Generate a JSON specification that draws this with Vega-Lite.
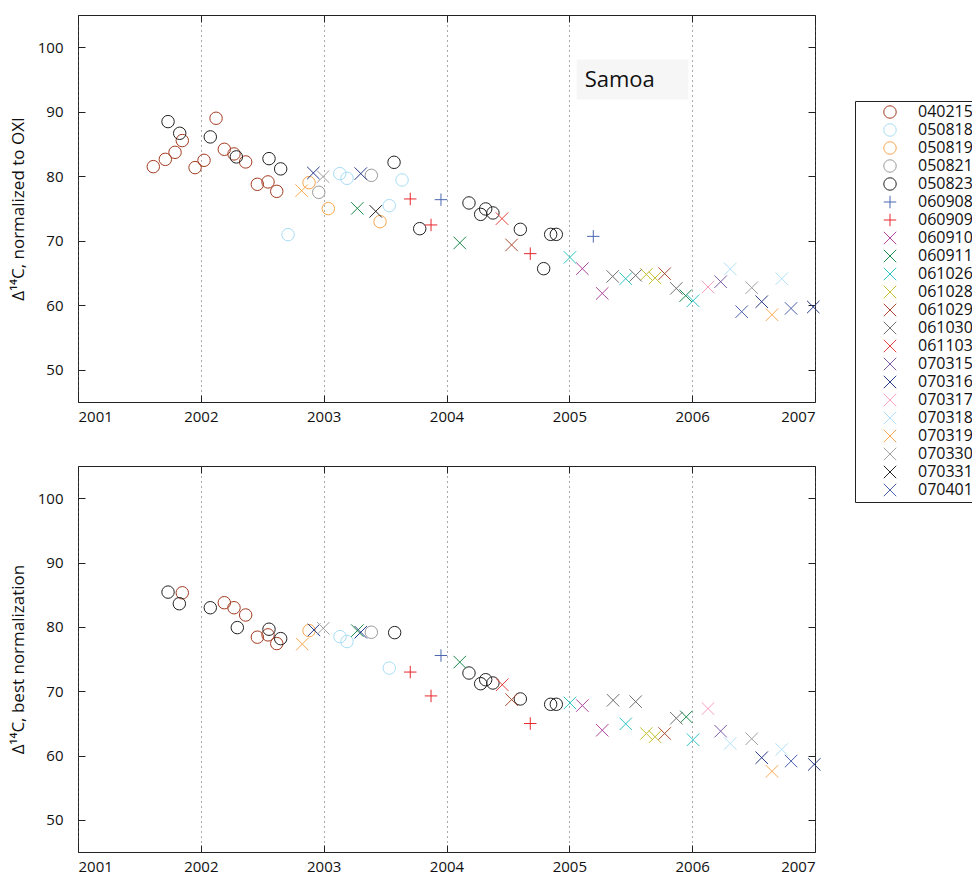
{
  "$schema": "https://vega.github.io/schema/vega-lite/v6.json",
  "padding": {"left": 8, "top": 14, "right": 0, "bottom": 0},
  "autosize": {"type": "pad"},
  "spacing": 40,
  "config": {
    "font": "Open Sans",
    "view": {"stroke": "#222", "strokeWidth": 1},
    "axis": {
      "labelFont": "Open Sans", "labelFontSize": 15, "labelColor": "#111",
      "titleFont": "Open Sans", "titleFontSize": 17, "titleFontWeight": "normal", "titleColor": "#111",
      "domain": false, "tickColor": "#222", "tickSize": -7, "grid": false
    },
    "axisX": {"labelPadding": 14},
    "axisY": {"labelPadding": 22, "titlePadding": 10}
  },
  "datasets": {
    "top": [
      {"s": "040215", "t": 2001.613, "v": 81.49},
      {"s": "040215", "t": 2001.711, "v": 82.62},
      {"s": "040215", "t": 2001.790, "v": 83.71},
      {"s": "040215", "t": 2001.849, "v": 85.53},
      {"s": "040215", "t": 2001.953, "v": 81.34},
      {"s": "040215", "t": 2002.026, "v": 82.47},
      {"s": "040215", "t": 2002.124, "v": 88.99},
      {"s": "040215", "t": 2002.191, "v": 84.18},
      {"s": "040215", "t": 2002.270, "v": 83.46},
      {"s": "040215", "t": 2002.365, "v": 82.22},
      {"s": "040215", "t": 2002.460, "v": 78.75},
      {"s": "040215", "t": 2002.547, "v": 79.12},
      {"s": "040215", "t": 2002.618, "v": 77.66},
      {"s": "050818", "t": 2002.710, "v": 70.94},
      {"s": "050818", "t": 2003.131, "v": 80.41},
      {"s": "050818", "t": 2003.190, "v": 79.68},
      {"s": "050818", "t": 2003.534, "v": 75.44},
      {"s": "050818", "t": 2003.638, "v": 79.43},
      {"s": "050819", "t": 2002.881, "v": 79.01},
      {"s": "050819", "t": 2003.038, "v": 74.98},
      {"s": "050819", "t": 2003.459, "v": 72.96},
      {"s": "050821", "t": 2002.960, "v": 77.51},
      {"s": "050821", "t": 2003.388, "v": 80.14},
      {"s": "050823", "t": 2001.733, "v": 88.47},
      {"s": "050823", "t": 2001.828, "v": 86.66},
      {"s": "050823", "t": 2002.077, "v": 86.10},
      {"s": "050823", "t": 2002.289, "v": 83.00},
      {"s": "050823", "t": 2002.555, "v": 82.73},
      {"s": "050823", "t": 2002.650, "v": 81.14},
      {"s": "050823", "t": 2003.573, "v": 82.16},
      {"s": "050823", "t": 2003.782, "v": 71.87},
      {"s": "050823", "t": 2004.183, "v": 75.86},
      {"s": "050823", "t": 2004.278, "v": 74.09},
      {"s": "050823", "t": 2004.319, "v": 74.93},
      {"s": "050823", "t": 2004.378, "v": 74.31},
      {"s": "050823", "t": 2004.601, "v": 71.77},
      {"s": "050823", "t": 2004.791, "v": 65.67},
      {"s": "050823", "t": 2004.848, "v": 70.99},
      {"s": "050823", "t": 2004.894, "v": 70.99},
      {"s": "060908", "t": 2003.955, "v": 76.37},
      {"s": "060908", "t": 2005.195, "v": 70.68},
      {"s": "060909", "t": 2003.705, "v": 76.48},
      {"s": "060909", "t": 2003.874, "v": 72.45},
      {"s": "060909", "t": 2004.682, "v": 68.00},
      {"s": "060910", "t": 2005.106, "v": 65.67},
      {"s": "060910", "t": 2005.268, "v": 61.84},
      {"s": "060911", "t": 2003.274, "v": 75.02},
      {"s": "060911", "t": 2004.108, "v": 69.66},
      {"s": "060911", "t": 2005.947, "v": 61.48},
      {"s": "061026", "t": 2005.005, "v": 67.42},
      {"s": "061026", "t": 2005.459, "v": 64.12},
      {"s": "061026", "t": 2006.007, "v": 60.70},
      {"s": "061028", "t": 2005.627, "v": 64.78},
      {"s": "061028", "t": 2005.698, "v": 64.23},
      {"s": "061029", "t": 2004.530, "v": 69.35},
      {"s": "061029", "t": 2005.776, "v": 64.90},
      {"s": "061030", "t": 2005.353, "v": 64.47},
      {"s": "061030", "t": 2005.540, "v": 64.63},
      {"s": "061030", "t": 2005.871, "v": 62.61},
      {"s": "061103", "t": 2004.452, "v": 73.43},
      {"s": "070315", "t": 2006.232, "v": 63.65},
      {"s": "070316", "t": 2002.916, "v": 80.51},
      {"s": "070316", "t": 2003.302, "v": 80.41},
      {"s": "070316", "t": 2006.566, "v": 60.55},
      {"s": "070316", "t": 2006.986, "v": 59.73},
      {"s": "070317", "t": 2006.129, "v": 62.83},
      {"s": "070318", "t": 2006.310, "v": 65.62},
      {"s": "070318", "t": 2006.729, "v": 64.12},
      {"s": "070319", "t": 2002.821, "v": 77.77},
      {"s": "070319", "t": 2006.650, "v": 58.53},
      {"s": "070330", "t": 2002.995, "v": 79.94},
      {"s": "070330", "t": 2006.485, "v": 62.72},
      {"s": "070331", "t": 2003.424, "v": 74.56},
      {"s": "070401", "t": 2006.403, "v": 59.00},
      {"s": "070401", "t": 2006.805, "v": 59.51}
    ],
    "bottom": [
      {"s": "040215", "t": 2001.849, "v": 85.29},
      {"s": "040215", "t": 2002.191, "v": 83.75},
      {"s": "040215", "t": 2002.270, "v": 82.97},
      {"s": "040215", "t": 2002.365, "v": 81.84},
      {"s": "040215", "t": 2002.460, "v": 78.39},
      {"s": "040215", "t": 2002.547, "v": 78.75},
      {"s": "040215", "t": 2002.618, "v": 77.40},
      {"s": "050818", "t": 2003.133, "v": 78.48},
      {"s": "050818", "t": 2003.190, "v": 77.71},
      {"s": "050818", "t": 2003.534, "v": 73.59},
      {"s": "050819", "t": 2002.881, "v": 79.41},
      {"s": "050821", "t": 2003.388, "v": 79.16},
      {"s": "050823", "t": 2001.733, "v": 85.40},
      {"s": "050823", "t": 2001.825, "v": 83.59},
      {"s": "050823", "t": 2002.077, "v": 82.97},
      {"s": "050823", "t": 2002.297, "v": 79.88},
      {"s": "050823", "t": 2002.555, "v": 79.63},
      {"s": "050823", "t": 2002.650, "v": 78.17},
      {"s": "050823", "t": 2003.578, "v": 79.10},
      {"s": "050823", "t": 2004.183, "v": 72.82},
      {"s": "050823", "t": 2004.278, "v": 71.16},
      {"s": "050823", "t": 2004.319, "v": 71.78},
      {"s": "050823", "t": 2004.378, "v": 71.27},
      {"s": "050823", "t": 2004.601, "v": 68.79},
      {"s": "050823", "t": 2004.848, "v": 67.96},
      {"s": "050823", "t": 2004.894, "v": 67.96},
      {"s": "060908", "t": 2003.955, "v": 75.54},
      {"s": "060909", "t": 2003.705, "v": 72.97},
      {"s": "060909", "t": 2003.874, "v": 69.26},
      {"s": "060909", "t": 2004.682, "v": 64.97},
      {"s": "060910", "t": 2005.106, "v": 67.76},
      {"s": "060910", "t": 2005.268, "v": 63.93},
      {"s": "060911", "t": 2003.274, "v": 79.41},
      {"s": "060911", "t": 2004.108, "v": 74.52},
      {"s": "060911", "t": 2005.952, "v": 66.00},
      {"s": "061026", "t": 2005.005, "v": 68.17},
      {"s": "061026", "t": 2005.459, "v": 64.92},
      {"s": "061026", "t": 2006.007, "v": 62.45},
      {"s": "061028", "t": 2005.627, "v": 63.42},
      {"s": "061028", "t": 2005.698, "v": 62.91},
      {"s": "061029", "t": 2004.530, "v": 68.68},
      {"s": "061029", "t": 2005.776, "v": 63.42},
      {"s": "061030", "t": 2005.356, "v": 68.58},
      {"s": "061030", "t": 2005.540, "v": 68.37},
      {"s": "061030", "t": 2005.871, "v": 65.79},
      {"s": "061103", "t": 2004.454, "v": 71.00},
      {"s": "070315", "t": 2006.232, "v": 63.78},
      {"s": "070316", "t": 2002.921, "v": 79.52},
      {"s": "070316", "t": 2003.302, "v": 79.16},
      {"s": "070316", "t": 2006.566, "v": 59.66},
      {"s": "070316", "t": 2006.994, "v": 58.62},
      {"s": "070317", "t": 2006.129, "v": 67.29},
      {"s": "070318", "t": 2006.310, "v": 61.87},
      {"s": "070318", "t": 2006.729, "v": 60.94},
      {"s": "070319", "t": 2002.826, "v": 77.31},
      {"s": "070319", "t": 2006.650, "v": 57.54},
      {"s": "070330", "t": 2002.997, "v": 79.78},
      {"s": "070330", "t": 2006.485, "v": 62.60},
      {"s": "070401", "t": 2006.805, "v": 59.13}
    ]
  },
  "vconcat": [
    {
      "width": 737,
      "height": 387,
      "data": {"name": "top"},
      "resolve": {"axis": {"x": "independent", "y": "independent"}},
      "layer": [
        {
          "data": {"values": [{}]},
          "mark": {"type": "rect", "color": "#f6f6f6"},
          "encoding": {
            "x": {"datum": 2005.06, "type": "quantitative", "axis": null},
            "x2": {"datum": 2005.97},
            "y": {"datum": 91.9, "type": "quantitative", "axis": null},
            "y2": {"datum": 98.1}
          }
        },
        {
          "data": {"values": [{}]},
          "mark": {"type": "text", "text": "Samoa", "fontSize": 22, "align": "left", "baseline": "middle", "color": "#111", "font": "Open Sans"},
          "encoding": {
            "x": {"datum": 2005.125, "type": "quantitative", "axis": null},
            "y": {"datum": 95.0, "type": "quantitative", "axis": null}
          }
        },
        {
          "mark": {"type": "point", "filled": false, "strokeWidth": 1, "size": 155, "opacity": 1},
          "encoding": {
            "x": {"field": "t", "type": "quantitative", "scale": {"domain": [2001, 2007], "nice": false, "zero": false},
                  "axis": {"orient": "bottom", "values": [2001, 2002, 2003, 2004, 2005, 2006, 2007], "format": "d", "title": null, "grid": true, "gridDash": [1, 4], "gridColor": "#555", "gridWidth": 1}},
            "y": {"field": "v", "type": "quantitative", "scale": {"domain": [45, 105], "nice": false, "zero": false},
                  "axis": {"orient": "left", "values": [50, 60, 70, 80, 90, 100], "title": "Δ¹⁴C, normalized to OXI"}},
            "color": {"field": "s", "type": "nominal",
              "scale": {"domain": ["040215","050818","050819","050821","050823","060908","060909","060910","060911","061026","061028","061029","061030","061103","070315","070316","070317","070318","070319","070330","070331","070401"],
                        "range": ["#a33b20","#a8ddf5","#f9a64f","#9a9a9a","#222222","#4a66b0","#e8262a","#b0449c","#1a8a4a","#2ec4c4","#c4c030","#a84a30","#707070","#e8403a","#7a5aa8","#283a88","#f7a0c0","#b0e0f8","#f9a850","#a0a0a0","#222222","#4a60b0"]},
              "legend": {"orient": "none", "legendX": 777, "legendY": 86, "title": null, "strokeColor": "#222", "fillColor": "white", "padding": 3,
                         "labelFont": "Open Sans", "labelFontSize": 16, "labelColor": "#111", "symbolSize": 155, "symbolStrokeWidth": 1,
                         "rowPadding": 0, "symbolOffset": 24, "labelOffset": 20, "labelLimit": 300}},
            "shape": {"field": "s", "type": "nominal",
              "scale": {"domain": ["040215","050818","050819","050821","050823","060908","060909","060910","060911","061026","061028","061029","061030","061103","070315","070316","070317","070318","070319","070330","070331","070401"],
                        "range": ["circle","circle","circle","circle","circle","M-1,0L1,0M0,-1L0,1","M-1,0L1,0M0,-1L0,1","M-1,-1L1,1M-1,1L1,-1","M-1,-1L1,1M-1,1L1,-1","M-1,-1L1,1M-1,1L1,-1","M-1,-1L1,1M-1,1L1,-1","M-1,-1L1,1M-1,1L1,-1","M-1,-1L1,1M-1,1L1,-1","M-1,-1L1,1M-1,1L1,-1","M-1,-1L1,1M-1,1L1,-1","M-1,-1L1,1M-1,1L1,-1","M-1,-1L1,1M-1,1L1,-1","M-1,-1L1,1M-1,1L1,-1","M-1,-1L1,1M-1,1L1,-1","M-1,-1L1,1M-1,1L1,-1","M-1,-1L1,1M-1,1L1,-1","M-1,-1L1,1M-1,1L1,-1"]}}
          }
        },
        {
          "data": {"values": [{}]},
          "mark": {"type": "point", "opacity": 0},
          "encoding": {
            "x": {"datum": 2001, "type": "quantitative", "axis": {"orient": "top", "labels": false, "title": null, "values": [2001, 2002, 2003, 2004, 2005, 2006, 2007]}},
            "y": {"datum": 50, "type": "quantitative", "axis": {"orient": "right", "labels": false, "title": null, "values": [50, 60, 70, 80, 90, 100]}}
          }
        }
      ]
    },
    {
      "width": 737,
      "height": 386,
      "data": {"name": "bottom"},
      "resolve": {"axis": {"x": "independent", "y": "independent"}},
      "layer": [
        {
          "mark": {"type": "point", "filled": false, "strokeWidth": 1, "size": 155, "opacity": 1},
          "encoding": {
            "x": {"field": "t", "type": "quantitative", "scale": {"domain": [2001, 2007], "nice": false, "zero": false},
                  "axis": {"orient": "bottom", "values": [2001, 2002, 2003, 2004, 2005, 2006, 2007], "format": "d", "title": null, "grid": true, "gridDash": [1, 4], "gridColor": "#555", "gridWidth": 1}},
            "y": {"field": "v", "type": "quantitative", "scale": {"domain": [45, 105], "nice": false, "zero": false},
                  "axis": {"orient": "left", "values": [50, 60, 70, 80, 90, 100], "title": "Δ¹⁴C, best normalization"}},
            "color": {"field": "s", "type": "nominal",
              "scale": {"domain": ["040215","050818","050819","050821","050823","060908","060909","060910","060911","061026","061028","061029","061030","061103","070315","070316","070317","070318","070319","070330","070331","070401"],
                        "range": ["#a33b20","#a8ddf5","#f9a64f","#9a9a9a","#222222","#4a66b0","#e8262a","#b0449c","#1a8a4a","#2ec4c4","#c4c030","#a84a30","#707070","#e8403a","#7a5aa8","#283a88","#f7a0c0","#b0e0f8","#f9a850","#a0a0a0","#222222","#4a60b0"]}},
            "shape": {"field": "s", "type": "nominal",
              "scale": {"domain": ["040215","050818","050819","050821","050823","060908","060909","060910","060911","061026","061028","061029","061030","061103","070315","070316","070317","070318","070319","070330","070331","070401"],
                        "range": ["circle","circle","circle","circle","circle","M-1,0L1,0M0,-1L0,1","M-1,0L1,0M0,-1L0,1","M-1,-1L1,1M-1,1L1,-1","M-1,-1L1,1M-1,1L1,-1","M-1,-1L1,1M-1,1L1,-1","M-1,-1L1,1M-1,1L1,-1","M-1,-1L1,1M-1,1L1,-1","M-1,-1L1,1M-1,1L1,-1","M-1,-1L1,1M-1,1L1,-1","M-1,-1L1,1M-1,1L1,-1","M-1,-1L1,1M-1,1L1,-1","M-1,-1L1,1M-1,1L1,-1","M-1,-1L1,1M-1,1L1,-1","M-1,-1L1,1M-1,1L1,-1","M-1,-1L1,1M-1,1L1,-1","M-1,-1L1,1M-1,1L1,-1","M-1,-1L1,1M-1,1L1,-1"]}}
          }
        },
        {
          "data": {"values": [{}]},
          "mark": {"type": "point", "opacity": 0},
          "encoding": {
            "x": {"datum": 2001, "type": "quantitative", "axis": {"orient": "top", "labels": false, "title": null, "values": [2001, 2002, 2003, 2004, 2005, 2006, 2007]}},
            "y": {"datum": 50, "type": "quantitative", "axis": {"orient": "right", "labels": false, "title": null, "values": [50, 60, 70, 80, 90, 100]}}
          }
        }
      ]
    }
  ]
}
